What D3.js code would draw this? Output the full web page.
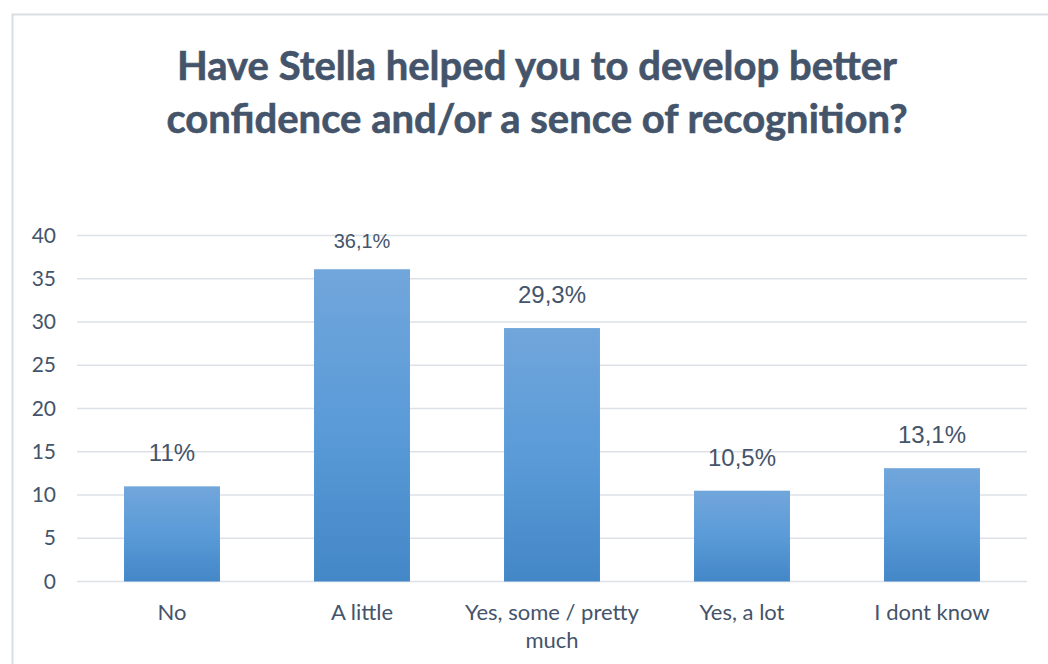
<!DOCTYPE html>
<html>
<head>
<meta charset="utf-8">
<script src="https://cdn.jsdelivr.net/npm/d3@7"></script>
<style>
  html, body { margin: 0; padding: 0; background: #ffffff; }
  svg { display: block; }
</style>
</head>
<body>
<svg id="chart" width="1048" height="664"></svg>
<script>
// Survey answers and their shares (%)
const categories = ["No", "A little", "Yes, some / pretty much", "Yes, a lot", "I dont know"];
const values = [11, 36.1, 29.3, 10.5, 13.1];
const valueLabels = ["11%", "36,1%", "29,3%", "10,5%", "13,1%"];
const yTicks = [0, 5, 10, 15, 20, 25, 30, 35, 40];
const titleLines = ["Have Stella helped you to develop better", "confidence and/or a sence of recognition?"];

// Styling
const textColor = "#44546A";
const gridColor = "#DDE1E7";
const bodyFont = "Lato, 'Open Sans', sans-serif";
const labelFont = "'Liberation Sans', Arial, sans-serif";
const labelSizeLarge = 24;
const labelSizeSmall = 20; // the tallest bar's label is set a bit smaller

const svg = d3.select("#chart");

// Chart frame (open on the right and bottom, as it runs past the page edge)
svg.append("rect")
  .attr("x", 12.5).attr("y", 14.5)
  .attr("width", 1060).attr("height", 700)
  .attr("fill", "#ffffff")
  .attr("stroke", "#D9DEE4").attr("stroke-width", 2);

// Gradient fill for bars
const defs = svg.append("defs");
const grad = defs.append("linearGradient")
  .attr("id", "barGrad").attr("x1", 0).attr("y1", 0).attr("x2", 0).attr("y2", 1);
grad.append("stop").attr("offset", "0%").attr("stop-color", "#71A6DB");
grad.append("stop").attr("offset", "50%").attr("stop-color", "#5A9BD8");
grad.append("stop").attr("offset", "100%").attr("stop-color", "#4487C7");

// Title
const title = svg.append("text")
  .attr("text-anchor", "middle")
  .attr("font-family", bodyFont)
  .attr("font-weight", "bold")
  .attr("font-size", 40)
  .attr("fill", textColor)
  .attr("stroke", textColor)
  .attr("stroke-width", 0.6);
titleLines.forEach((line, i) => {
  title.append("tspan").attr("x", 537).attr("y", 80 + i * 53).text(line);
});

// Scales
const x = d3.scaleBand()
  .domain(categories)
  .range([77, 1027])
  .paddingInner(0.495)
  .paddingOuter(0.2475);

const y = d3.scaleLinear()
  .domain([0, 40])
  .range([581.5, 235.5]);

// Gridlines
svg.append("g")
  .selectAll("line")
  .data(yTicks)
  .join("line")
  .attr("x1", 77).attr("x2", 1027)
  .attr("y1", d => y(d)).attr("y2", d => y(d))
  .attr("stroke", gridColor)
  .attr("stroke-width", 1.5);

// Y axis labels
const yAxis = svg.append("g")
  .attr("transform", "translate(56,0)")
  .call(d3.axisLeft(y).tickValues(yTicks).tickSize(0).tickPadding(0));
yAxis.select(".domain").remove();
yAxis.selectAll("text")
  .attr("font-family", bodyFont)
  .attr("font-size", 21)
  .attr("fill", textColor);

// Bars
svg.append("g")
  .selectAll("rect")
  .data(values)
  .join("rect")
  .attr("x", (d, i) => x(categories[i]))
  .attr("y", d => y(d))
  .attr("width", x.bandwidth())
  .attr("height", d => y(0) - y(d))
  .attr("fill", "url(#barGrad)");

// Value labels
const maxVal = d3.max(values);
svg.append("g")
  .selectAll("text")
  .data(values)
  .join("text")
  .attr("x", (d, i) => x(categories[i]) + x.bandwidth() / 2)
  .attr("y", d => y(d) - (d === maxVal ? 21 : 25))
  .attr("text-anchor", "middle")
  .attr("font-family", labelFont)
  .attr("font-size", d => d === maxVal ? labelSizeSmall : labelSizeLarge)
  .attr("fill", textColor)
  .text((d, i) => valueLabels[i]);

// X axis category labels, wrapped to the band width
const xAxis = svg.append("g")
  .attr("transform", `translate(0,${y(0)})`)
  .call(d3.axisBottom(x).tickSize(0).tickPadding(0));
xAxis.select(".domain").remove();
xAxis.selectAll("text")
  .attr("font-family", bodyFont)
  .attr("font-size", 22)
  .attr("fill", textColor)
  .attr("dy", null)
  .attr("y", 38)
  .each(function () {
    const t = d3.select(this);
    const words = t.text().split(/\s+/);
    const maxW = x.step() - 4;
    t.text(null);
    let line = [];
    let lineNo = 0;
    let tspan = t.append("tspan").attr("x", 0).attr("y", 38);
    words.forEach(w => {
      line.push(w);
      tspan.text(line.join(" "));
      if (tspan.node().getComputedTextLength() > maxW && line.length > 1) {
        line.pop();
        tspan.text(line.join(" "));
        line = [w];
        lineNo++;
        tspan = t.append("tspan").attr("x", 0).attr("y", 38 + lineNo * 28).text(w);
      }
    });
  });
</script>
</body>
</html>
